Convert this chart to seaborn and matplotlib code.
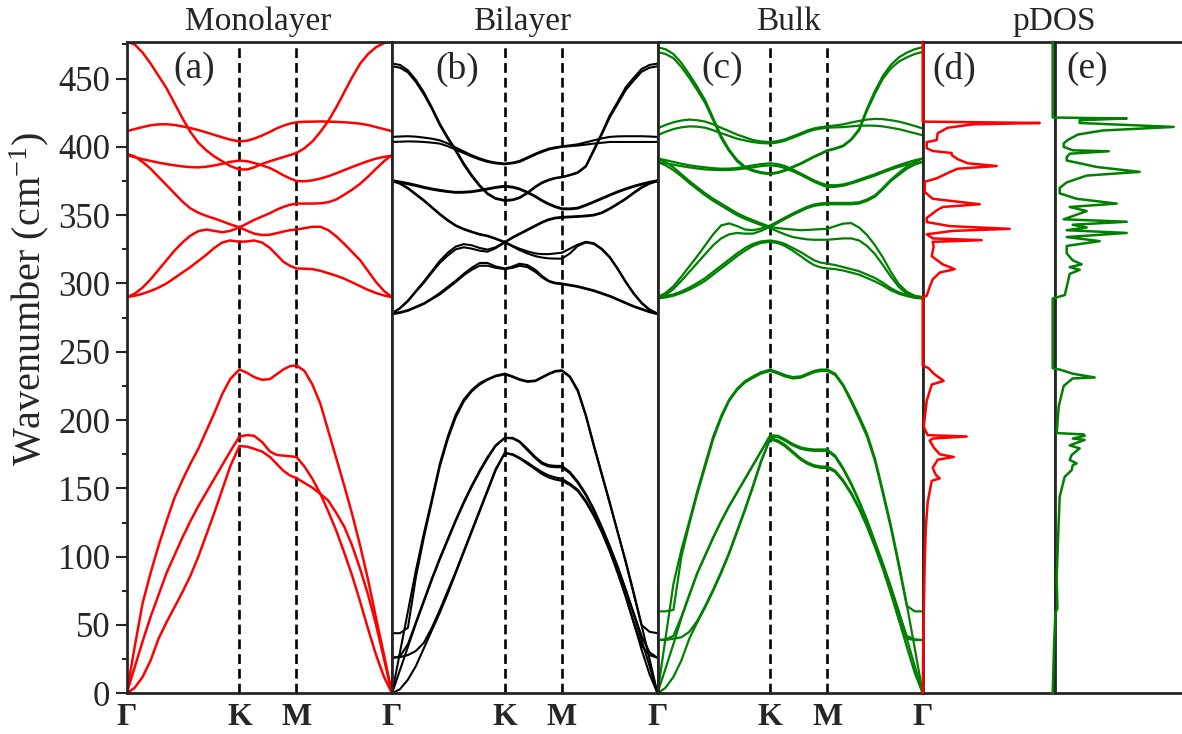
import numpy as np
import pandas as pd
import matplotlib
matplotlib.use("Agg")
import matplotlib.pyplot as plt
from matplotlib.ticker import MultipleLocator
import seaborn as sns

# ---------------------------------------------------------------
# k-path sampling (fraction of the Γ-K-M-Γ path length)
# ---------------------------------------------------------------
K_PATH = [0.0, 0.03, 0.06, 0.09, 0.12, 0.15, 0.18, 0.21, 0.24, 0.27, 0.30, 0.33, 0.36,
          0.39, 0.425, 0.455, 0.48, 0.51, 0.54, 0.565, 0.59, 0.615, 0.64, 0.67, 0.70,
          0.73, 0.76, 0.79, 0.82, 0.85, 0.88, 0.91, 0.94, 0.97, 1.0]
HS_POS = [0.0, 0.425, 0.64, 1.0]
HS_LABELS = ["Γ", "K", "M", "Γ"]

# ---------------------------------------------------------------
# Monolayer phonon branches (cm^-1)
# ---------------------------------------------------------------
mono_za = [0, 4, 12, 24, 40, 52, 63, 74, 86, 100, 116, 132, 149, 166, 181, 180.5, 179, 177,
           173, 168, 163, 159.5, 157.5, 154, 150.5, 146, 141, 132, 122, 108, 91, 72, 50, 25, 0]
mono_ta = [0, 19, 38, 56, 72, 88, 101, 114, 126, 137, 147, 157, 167, 177, 188, 189, 188.5,
           184, 177, 174.5, 174, 173.5, 173, 166, 157, 146, 133, 119, 103, 86, 67, 47, 28, 12, 0]
mono_la = [0, 34, 66, 88, 108, 126, 143, 156, 168, 179, 192, 205, 219, 230, 237, 234.5, 231.5,
           229.5, 230, 233.5, 237, 239.5, 240, 236, 226, 212, 192, 172, 152, 131, 108, 83, 55, 28, 0]
mono_o1 = [290, 291, 292.5, 294.5, 297, 300, 304, 308, 312, 316.5, 321, 326, 330, 331.5, 330.5,
           330.8, 331.5, 330, 326, 321, 316, 313, 311, 310.8, 310.5, 309.3, 307.5, 305.7, 303.5,
           300.8, 298, 295.3, 293, 291.2, 290]
mono_o2 = [290, 292.5, 297, 303, 310, 317, 324, 330, 335, 338.3, 339.5, 338.5, 337.5, 338.5, 341,
           344, 346.5, 349, 351.5, 354, 356, 357.6, 358.5, 358.5, 358.5, 358.7, 359.5, 361.5, 365,
           368.7, 373, 378.3, 384, 389.5, 394]
mono_o3 = [395, 393, 389, 384, 378, 372, 366, 360, 355, 351.8, 349.5, 347.6, 345.5, 343.3, 341,
           338.5, 336.5, 335.5, 335.7, 336.8, 338, 339, 339.5, 340.5, 341.5, 341.5, 339, 334.5, 329,
           323, 317, 309, 301, 294.5, 290]
mono_o4 = [394, 392.5, 391, 389.7, 388.5, 387.4, 386.5, 385.7, 385.2, 385, 385.5, 386.4, 387.6, 389,
           390, 389.5, 388.2, 386.5, 384.5, 382, 379.3, 377, 375, 374.8, 375.5, 376.8, 378.5, 380.7,
           383, 385.3, 387.5, 389.6, 391.4, 392.7, 393.5]
mono_o5 = [411.5, 413, 414.5, 415.8, 416.5, 416.6, 416, 415, 413.8, 412.3, 410.6, 408.8, 407, 405.3,
           404, 404.6, 406, 408.3, 411, 413.5, 415.5, 417, 418, 418.4, 418.5, 418.6, 418.5, 418.3,
           418, 417.6, 417, 416, 414.5, 413, 411.5]
mono_o6 = [477, 475, 469, 461, 452, 443, 432, 421, 411, 403, 397.5, 393, 389.5, 386, 383.5, 383.5,
           385, 387.5, 389.5, 391, 392.5, 394, 395.5, 399, 404, 411, 419, 429, 440, 451, 461, 468,
           473, 476, 477]

# ---------------------------------------------------------------
# Bilayer phonon branches (cm^-1)
# ---------------------------------------------------------------
bi_za1 = [0, 3, 10, 20, 33, 46, 59, 73, 88, 103, 118, 133, 148, 163, 176, 175, 172.5, 169, 165,
          162, 159.5, 158, 157, 153.5, 149, 141, 131, 119, 105, 89, 71, 52, 32, 14, 0]
bi_za2 = [26, 26.5, 28, 31, 37, 48, 61, 75, 89, 104, 119, 134, 149, 164, 176, 174.5, 172, 168,
          164, 160.5, 158, 156.5, 155.5, 152.5, 148, 140, 130, 118, 104, 88, 71, 52, 35, 28, 26]
bi_ta1 = [0, 17, 34, 51, 67, 83, 98, 112, 126, 139, 151, 162, 172, 181, 187, 187, 184.5, 179,
          173, 169, 167, 166.5, 166.5, 162, 155, 146, 135, 122, 108, 93, 76, 58, 39, 20, 0]
bi_ta2 = [26, 27, 36, 52, 68, 84, 99, 113, 127, 140, 152, 163, 173, 181.5, 187, 186.5, 184, 178,
          172, 168, 166, 165.5, 165.5, 161, 154, 145, 134, 121, 107, 92, 76, 59, 42, 30, 26]
bi_la1 = [0, 30, 60, 90, 117, 142, 168, 188, 204, 215, 222, 227, 230, 232.5, 234, 232, 230,
          228.5, 229, 231.5, 234, 236, 236.5, 232, 222, 204, 182, 161, 140, 118, 97, 74, 50, 25, 0]
bi_la2 = [44, 44, 48, 85, 114, 140, 166, 186, 202, 213.5, 221, 226, 229.5, 232, 233.5, 231.5,
          229.5, 228, 228.5, 231, 233.5, 235.5, 236, 231.5, 221, 203, 181, 160, 139, 118, 96, 73,
          50, 45, 44]
bi_o1a = [278, 279, 280.5, 283, 285.5, 289, 293, 297.5, 302, 307, 311.5, 315, 315, 312.5, 311,
          312.5, 314.5, 313.5, 310, 305.5, 302, 300.5, 300, 299, 298, 296.5, 295, 293, 291, 288.5,
          286, 283.5, 281.5, 279.5, 278]
bi_o1b = [277.5, 278.5, 280, 282.5, 285, 288.5, 292, 296.5, 301, 306, 310, 313, 313, 311.5, 310.5,
          311.5, 313, 312, 308.5, 304.5, 301.5, 300, 299.5, 298.5, 297.5, 296, 294.5, 292.5, 290.5,
          288, 285.5, 283, 281, 279, 277.5]
bi_o2a = [278, 282, 287.5, 294.5, 301.5, 309, 316.5, 322.5, 327, 328.8, 328, 326, 324.8, 326.5,
          330.4, 334, 336.5, 339.5, 342.5, 345, 347, 348.2, 348.7, 349, 349.3, 349.7, 350.3, 352,
          355, 358.5, 362.2, 366.5, 370.5, 373.5, 375.5]
bi_o2b = [278, 281.8, 287, 294, 300.5, 308, 315, 320.5, 325, 326.5, 325.5, 324, 323.3, 325.8, 330,
          333.5, 336, 339, 342, 344.5, 346.5, 347.7, 348.2, 348.5, 348.8, 349.2, 349.8, 351.5, 354.5,
          358, 361.7, 366, 370, 373, 375]
bi_o3a = [375.5, 373.5, 370, 365.5, 361, 356, 351, 346.5, 342.6, 340, 338, 336.2, 335, 333, 330.4,
          327.5, 325.5, 323.5, 322, 321.5, 321.5, 322, 322.5, 325.5, 328.5, 330.5, 329.5, 325.5,
          319.5, 311, 301.5, 293, 286, 281, 278]
bi_o3b = [375, 373, 369.5, 365, 360.5, 355.5, 350.5, 346, 342.2, 339.6, 337.6, 335.8, 334.6, 332.6,
          330, 327, 324.5, 322, 320, 319, 318.4, 318.2, 318.2, 322, 327.5, 330, 329, 325, 319,
          310.5, 301, 292.5, 285.5, 280.5, 278]
bi_o4a = [375.5, 374.6, 373.5, 372.2, 370.7, 369.5, 368.5, 367.6, 367, 367.1, 367.5, 368.4, 369.5,
          370.6, 371.5, 370.8, 369.5, 367, 364, 361, 358.5, 356.5, 355, 354.9, 355.5, 357.6, 360,
          362.5, 365, 367.4, 369.5, 371.4, 373, 374.4, 375.5]
bi_o4b = [374.7, 373.8, 372.7, 371.4, 370, 368.8, 367.8, 367, 366.4, 366.5, 366.9, 367.8, 368.9,
          370, 370.9, 370.2, 368.9, 366.4, 363.4, 360.4, 357.9, 355.9, 354.4, 354.3, 354.9, 357,
          359.4, 361.9, 364.4, 366.8, 368.9, 370.8, 372.4, 373.7, 374.7]
bi_o5a = [407.3, 407.6, 407.8, 407.5, 406.8, 406, 404.8, 402.5, 399.5, 396.7, 393.9, 391.6, 389.7,
          388.5, 387.8, 388.5, 389.7, 392.3, 395, 397, 398.7, 399.7, 400.4, 401.1, 401.9, 403.3,
          404.8, 406.2, 407.3, 407.7, 407.8, 407.8, 407.8, 407.6, 407.3]
bi_o5b = [403.6, 403.8, 404, 403.9, 403.6, 403.1, 402.4, 400.5, 398, 395.5, 393, 390.8, 389, 387.9,
          387.3, 388, 389, 391.6, 394.3, 396.3, 398, 399.1, 400, 400.5, 401, 401.7, 402.4, 403,
          403.6, 403.6, 403.6, 403.6, 403.6, 403.6, 403.6]
bi_o6a = [461, 460, 456, 449, 440, 429, 417, 407, 398, 388, 379.5, 372, 366, 362.5, 361, 361.5,
          363, 366.5, 371, 374, 376, 377.3, 378, 379.5, 381.5, 386, 398, 410, 423, 433, 443.5,
          450.5, 457, 460, 461]
bi_o6b = [459, 458, 454.5, 447.5, 438.5, 428, 416, 406, 397, 387, 378.5, 371.3, 365.4, 362, 360.5,
          361, 362.5, 366, 370.5, 373.5, 375.5, 377, 377.8, 379.2, 381, 385.5, 397, 409, 421.5,
          431.5, 441.5, 448.5, 455, 458, 459]

# ---------------------------------------------------------------
# Bulk phonon branches (cm^-1)
# ---------------------------------------------------------------
bk_za1 = [0, 4, 12, 24, 40, 52, 63, 75, 88, 102, 118, 134, 151, 169, 187, 185, 182, 177, 172,
          169, 167, 166, 166, 163, 156, 147, 136, 123, 108, 92, 74, 54, 34, 15, 0]
bk_za2 = [39, 39, 40, 41, 45, 53, 64, 76, 89, 103, 119, 135, 152, 170, 186, 184, 181, 176, 171,
          168, 166, 165, 165, 162, 155, 146, 135, 122, 107, 91, 73, 54, 40, 39, 39]
bk_ta1 = [0, 18, 36, 55, 72, 88, 101, 114, 126, 137, 147, 157, 167, 177, 189, 188.5, 186, 182.5,
          180, 179, 178.5, 178.5, 178.5, 174, 165, 154, 141, 127, 111, 95, 78, 60, 40, 20, 0]
bk_ta2 = [39, 39.5, 42, 56, 72, 88, 101, 114, 126, 137, 147, 157, 167, 177, 188, 187.5, 185,
          181.5, 179, 178, 177.5, 177.5, 177.5, 173, 164, 153, 140, 126, 110, 94, 77, 59, 42,
          39.5, 39]
bk_la1 = [0, 40, 80, 105, 126, 148, 168, 188, 203, 215, 223, 228.5, 232, 235, 237, 235, 233,
          231.5, 232, 234, 236, 237, 237, 234, 226, 215, 203, 190, 172, 148, 123, 95, 65, 33, 0]
bk_la2 = [60, 60, 61, 100, 124, 146, 166, 186, 201.5, 214, 222, 227.5, 231, 234, 236, 234, 232,
          230.5, 231, 233, 235, 236, 236, 233, 225, 213.5, 201, 188, 170, 146, 121, 93, 64, 60, 60]
bk_o1a = [290, 290.8, 292, 294.2, 297, 300.3, 304, 308.5, 313, 317.5, 322, 326, 329, 330.8, 331.5,
          330.5, 329, 326, 323, 320, 317, 315.3, 314.5, 313.5, 312, 310.5, 309, 306.5, 304, 300.5,
          296.5, 293.5, 291.5, 290.3, 290]
bk_o1b = [289, 289.8, 291, 293, 295.5, 298.5, 302, 306.5, 311, 315.5, 320, 324, 327.5, 329.7,
          330.5, 329.5, 327.5, 324, 320, 316.5, 313.5, 311.8, 311, 310.5, 309.5, 308, 306.5, 304,
          301.5, 298.5, 295, 292.5, 290.8, 289.5, 289]
bk_o2a = [290, 293, 298, 305, 312.5, 320, 328, 336, 342.5, 344, 342, 339.5, 339, 340.2, 342.5,
          345.5, 348.2, 351.2, 354, 356.2, 357.8, 358.6, 359, 359, 359, 359, 359.5, 361.5, 364.5,
          370, 376, 381, 385.5, 389, 391.5]
bk_o2b = [289, 291.5, 296, 302, 308.5, 315, 321.5, 328, 333, 336, 337, 336.5, 336.5, 338.5,
          341.5, 344.5, 347.2, 350.2, 353, 355.2, 356.8, 357.6, 358, 358, 358, 358, 358.5, 360.5,
          363.5, 369, 375, 379.5, 384, 387, 389]
bk_o3a = [391.5, 389, 385, 380, 375, 370.5, 366, 362, 358.5, 355, 351.5, 348.7, 346.3, 344, 341.5,
          340.5, 340, 339.5, 339, 339.2, 339.5, 339.8, 340, 342, 343.8, 344.2, 341, 335.5, 328,
          319, 308.5, 299.5, 294, 291, 290]
bk_o3b = [389, 386.5, 383, 378.5, 373.5, 369, 364.5, 360.5, 357, 353.5, 350, 347.3, 345, 342.8,
          340.5, 338, 336, 334, 333, 332.3, 332, 332, 332, 332.5, 333, 333, 331.5, 327.5, 321.5,
          313.5, 305, 297.5, 292.5, 290, 289]
bk_o4a = [391.5, 390.3, 389, 387.7, 386.5, 385.7, 385, 384.4, 384, 384.1, 384.5, 385.5, 386.5,
          387.4, 388, 387.3, 386, 383.5, 380.5, 378, 375.5, 373.5, 372, 371.9, 372.5, 374, 376,
          378, 380, 382.3, 384.5, 386.6, 388.5, 390.2, 391.5]
bk_o4b = [389, 388, 387, 385.9, 385, 384.2, 383.5, 383.2, 383, 383.1, 383.5, 384.2, 385, 385.9,
          386.5, 385.8, 384.5, 382.2, 379.5, 377, 374.5, 372.4, 370.5, 370.8, 371.5, 373.2, 375,
          377, 379, 381.3, 383.5, 385.4, 387, 388.1, 389]
bk_o5a = [413.5, 416, 418, 419.3, 420, 419.5, 418.5, 416.5, 414, 411.5, 409, 407, 405, 404, 403.5,
          404.3, 405.5, 407.7, 410, 412, 413.5, 414.4, 415, 415.7, 416.5, 417.8, 419, 420, 420.5,
          420.3, 419.5, 418.5, 417, 415.3, 413.5]
bk_o5b = [408.5, 411, 413, 414.3, 415, 414.8, 414, 412.2, 410, 408, 406, 404.7, 403.5, 402.8,
          402.5, 403.3, 404.5, 406.7, 409, 411, 412.5, 413.4, 414, 414.3, 414.5, 415, 415.5, 415.6,
          415.5, 415, 414, 413, 411.5, 410, 408.5]
bk_o6a = [473, 471.5, 468, 461.5, 453, 444, 434, 421, 408, 398, 390.5, 385.5, 383, 381.5, 380.5,
          381.5, 383, 385.5, 388, 390.5, 393, 395.2, 397.5, 399, 401, 405.5, 413, 428, 441, 452,
          460, 465.5, 469, 471.5, 473]
bk_o6b = [469.5, 468, 465, 458.5, 450.5, 441.5, 432, 419.5, 406.5, 397, 389.5, 384.7, 382.3, 380.8,
          380, 381, 382.5, 385, 387.5, 390, 392.5, 394.7, 397, 398.5, 400.5, 405, 412, 426.5, 439,
          450, 457.5, 462.5, 465.5, 468, 469.5]

# ---------------------------------------------------------------
# Projected phonon DOS (arb. units)
# ---------------------------------------------------------------
pdos_mono_freq = [477, 418.5, 417.5, 416.5, 414, 412, 410, 405, 403.5, 399, 397, 395.5, 394,
                  391, 388, 386, 384, 381.5, 377, 374.5, 367, 362, 358, 356, 353.5, 348, 345,
                  342, 340, 338.5, 336, 333, 331.7, 330.5, 327, 320, 314, 310.5, 308, 303,
                  297.5, 291, 290, 240, 238, 234, 228.7, 226, 214, 195, 189, 188, 186.5, 185,
                  180, 175, 173, 171, 165, 160, 157.3, 155.5, 140, 120, 95, 46, 0]
pdos_mono_val = [0, 0, 1.17, 0.5, 0.25, 0.2, 0.15, 0.14, 0.04, 0.04, 0.1, 0.29, 0.29,
                 0.35, 0.45, 0.74, 0.35, 0.27, 0.14, 0.02, 0.02, 0.1, 0.57, 0.2, 0.14, 0.04, 0.04,
                 0.27, 0.87, 0.3, 0.04, 0.1, 0.59, 0.1, 0.11, 0.09, 0.2, 0.32, 0.17, 0.1,
                 0.07, 0.04, 0.0, 0.0, 0.06, 0.11, 0.21, 0.09, 0.04, 0.01, 0.05, 0.44, 0.1, 0.07,
                 0.11, 0.17, 0.31, 0.15, 0.1, 0.13, 0.17, 0.09, 0.05, 0.03, 0.02, 0.007, 0]

pdos_bulk_freq = [477, 421.5, 420.8, 419.5, 417.5, 414.6, 412, 409, 405, 402.6, 400, 397.5,
                  396.8, 395, 392.5, 390, 388, 385.3, 381.7, 379, 374, 370, 366, 362, 358.5,
                  356, 353, 347, 345.2, 343, 341, 339, 337, 334, 331, 327.5, 322, 317, 314,
                  312, 310, 307, 297.5, 291.5, 289, 238, 237, 234, 231.2, 230.5, 225, 210,
                  190.5, 189.5, 188.5, 186.5, 185.5, 181.5, 179.3, 174.5, 170.8, 168.3, 167,
                  163.4, 158.5, 144, 119.5, 85.4, 62, 59, 34, 0]
pdos_bulk_val = [0, 0, 0.74, 0.27, 0.27, 1.21, 0.5, 0.25, 0.15, 0.11, 0.11, 0.2,
                 0.56, 0.17, 0.14, 0.14, 0.27, 0.44, 0.87, 0.34, 0.14, 0.07, 0.07, 0.24, 0.64,
                 0.17, 0.34, 0.11, 0.74, 0.2, 0.34, 0.14, 0.74, 0.14, 0.47, 0.14, 0.14, 0.2, 0.29,
                 0.17, 0.27, 0.17, 0.14, 0.12, 0.0, 0.0, 0.07, 0.2, 0.42, 0.2, 0.11, 0.06,
                 0.04, 0.31, 0.32, 0.2, 0.32, 0.17, 0.27, 0.19, 0.17, 0.24, 0.2,
                 0.19, 0.12, 0.07, 0.057, 0.04, 0.047, 0.027, 0.013, 0]

MONO = [mono_za, mono_ta, mono_la, mono_o1, mono_o2, mono_o3, mono_o4, mono_o5, mono_o6]
BILAYER = [bi_za1, bi_za2, bi_ta1, bi_ta2, bi_la1, bi_la2, bi_o1a, bi_o1b, bi_o2a, bi_o2b,
           bi_o3a, bi_o3b, bi_o4a, bi_o4b, bi_o5a, bi_o5b, bi_o6a, bi_o6b]
BULK = [bk_za1, bk_za2, bk_ta1, bk_ta2, bk_la1, bk_la2, bk_o1a, bk_o1b, bk_o2a, bk_o2b,
        bk_o3a, bk_o3b, bk_o4a, bk_o4b, bk_o5a, bk_o5b, bk_o6a, bk_o6b]

YMAX = 477
RED, GREEN, BLACK = "#ff0000", "#008000", "#000000"

# ---------------------------------------------------------------
sns.set_style("ticks")
plt.rcParams["font.family"] = ["Liberation Serif", "DejaVu Serif"]
plt.rcParams["mathtext.fontset"] = "custom"
plt.rcParams["mathtext.rm"] = "Liberation Serif"
plt.rcParams["axes.linewidth"] = 2.0

W, H = 1182, 734
fig = plt.figure(figsize=(W / 100, H / 100), dpi=100)

y0, y1 = 693.3, 41.7
bottom = (H - y0) / H
height = (y0 - y1) / H
edges = [126.7, 392.0, 657.5, 922.7, 1055.0, 1187.0]
axes = []
for i in range(5):
    ax = fig.add_axes([edges[i] / W, bottom, (edges[i + 1] - edges[i]) / W, height])
    axes.append(ax)


def to_frame(bands):
    parts = [pd.DataFrame({"k": K_PATH, "freq": b, "band": i}) for i, b in enumerate(bands)]
    return pd.concat(parts, ignore_index=True)


def band_panel(ax, bands, color, lw, hs_labels):
    for x in HS_POS[1:3]:
        ax.axvline(x, color="black", lw=1.9, ls=(0, (3.7, 1.9)), zorder=1)
    sns.lineplot(data=to_frame(bands), x="k", y="freq", units="band", estimator=None,
                 color=color, lw=lw, ax=ax, legend=False, zorder=2)
    ax.set_xlim(0, 1)
    ax.set_ylim(0, YMAX)
    ax.set_xlabel("")
    ax.set_ylabel("")
    ax.set_xticks(HS_POS[4 - len(hs_labels):], hs_labels)
    ax.tick_params(axis="x", length=0, pad=7, labelsize=23)
    for lab in ax.get_xticklabels():
        lab.set_fontweight("bold")


band_panel(axes[0], MONO, RED, 1.8, HS_LABELS)
band_panel(axes[1], BILAYER, BLACK, 1.5, HS_LABELS[1:])
band_panel(axes[2], BULK, GREEN, 1.6, HS_LABELS[1:])

# y axis only on the first panel
axes[0].yaxis.set_major_locator(MultipleLocator(50))
axes[0].yaxis.set_minor_locator(MultipleLocator(25))
axes[0].tick_params(axis="y", which="major", direction="out", length=7.7, width=1.5,
                    labelsize=25, pad=4)
axes[0].tick_params(axis="y", which="minor", direction="out", length=3.6, width=1.5)
for ax in axes[1:]:
    ax.tick_params(axis="y", which="both", left=False, labelleft=False)
fig.text(29 / W, 1 - 299 / H, "Wavenumber (cm$\\mathregular{^{-1}}$)", rotation=90,
         ha="center", va="center", fontsize=29)

# pDOS panels: curves sit on top of the shared spines
sns.lineplot(x=pdos_mono_val, y=pdos_mono_freq, sort=False, estimator=None,
             color=RED, lw=1.8, ax=axes[3], zorder=3)
axes[3].set_xlim(0, 1.323)
sns.lineplot(x=pdos_bulk_val, y=pdos_bulk_freq, sort=False, estimator=None,
             color=GREEN, lw=1.8, ax=axes[4], zorder=3)
axes[4].set_xlim(0.023, 1.343)
for ax in axes[3:]:
    for ln in ax.lines:
        ln.set_clip_on(False)
    ax.set_ylim(0, YMAX)
    ax.set_xticks([])
    ax.set_xlabel("")
    ax.set_ylabel("")

for ax in axes:
    for sp in ax.spines.values():
        sp.set_linewidth(2.0)
        sp.set_visible(True)

# panel titles and tags
titles = [("Monolayer", 258), ("Bilayer", 522), ("Bulk", 789), ("pDOS", 1054)]
for text, xc in titles:
    fig.text(xc / W, 1 - 22 / H, text, ha="center", va="center", fontsize=24)
tags = ["(a)", "(b)", "(c)", "(d)", "(e)"]
tag_x = [194, 457, 722.5, 954.5, 1087]
for t, xc in zip(tags, tag_x):
    fig.text(xc / W, 1 - 69 / H, t, ha="center", va="center", fontsize=27)

fig.savefig("out.png", dpi=100)
